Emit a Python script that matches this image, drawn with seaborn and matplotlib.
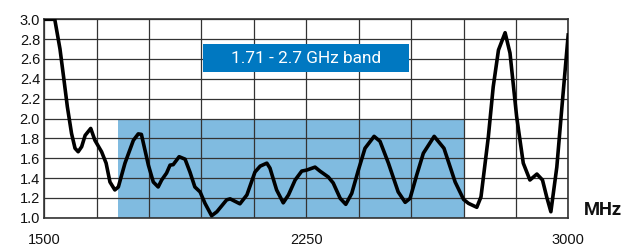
import pandas as pd
import matplotlib
matplotlib.use('Agg')
import matplotlib.pyplot as plt
import seaborn as sns
from matplotlib.patches import Rectangle

# Frequência (MHz) e VSWR
freq = [1500, 1530, 1545, 1556, 1566, 1578, 1588, 1597, 1607, 1617, 1633, 1645,
        1664, 1677, 1688, 1702, 1712, 1731, 1755, 1769, 1778, 1798, 1812, 1826,
        1836, 1850, 1860, 1869, 1886, 1903, 1917, 1931, 1946, 1960, 1979, 1994,
        2022, 2032, 2060, 2080, 2103, 2118, 2137, 2146, 2165, 2184, 2199, 2218,
        2237, 2251, 2275, 2289, 2313, 2327, 2347, 2363, 2380, 2399, 2418, 2444,
        2461, 2485, 2513, 2533, 2547, 2566, 2585, 2616, 2644, 2676, 2700, 2714,
        2738, 2750, 2771, 2785, 2800, 2819, 2833, 2852, 2871, 2890, 2910, 2926,
        2938, 2950, 2967, 2981, 3000]
vswr = [3.0, 3.0, 2.70, 2.40, 2.12, 1.85, 1.70, 1.665, 1.716, 1.83, 1.90, 1.78,
        1.665, 1.55, 1.36, 1.28, 1.31, 1.55, 1.78, 1.845, 1.84, 1.53, 1.36, 1.31,
        1.38, 1.45, 1.53, 1.535, 1.615, 1.59, 1.46, 1.31, 1.26, 1.145, 1.02, 1.06,
        1.18, 1.19, 1.14, 1.23, 1.46, 1.52, 1.55, 1.50, 1.28, 1.15, 1.23, 1.38,
        1.47, 1.48, 1.51, 1.47, 1.41, 1.35, 1.195, 1.135, 1.245, 1.48, 1.70, 1.82,
        1.77, 1.55, 1.26, 1.155, 1.195, 1.43, 1.65, 1.82, 1.70, 1.36, 1.185, 1.145,
        1.105, 1.21, 1.815, 2.32, 2.69, 2.865, 2.66, 2.02, 1.55, 1.38, 1.44, 1.38,
        1.21, 1.06, 1.51, 2.09, 2.86]

band = [1710, 2700]
band_label = '1.71 - 2.7 GHz band'
x_ticks = [1500, 2250, 3000]
y_ticks = [1.0, 1.2, 1.4, 1.6, 1.8, 2.0, 2.2, 2.4, 2.6, 2.8, 3.0]

df = pd.DataFrame({'MHz': freq, 'VSWR': vswr})

sns.set_style('white')
plt.rcParams['font.family'] = ['Liberation Sans', 'DejaVu Sans']

fig = plt.figure(figsize=(6.28, 2.46), dpi=100)
ax = fig.add_axes([0.0705, 0.115, 0.8345, 0.8065])

# Faixa azul clara
ax.add_patch(Rectangle((band[0], 1.0), band[1] - band[0], 1.0,
                       facecolor='#80bbe0', edgecolor='none', zorder=1))

sns.lineplot(data=df, x='MHz', y='VSWR', color='black', linewidth=2.6,
             ax=ax, zorder=3, solid_joinstyle='round', solid_capstyle='butt')

ax.set_xlim(1500, 3000)
ax.set_ylim(1.0, 3.0)
ax.set_xticks(x_ticks)
ax.set_xticks(range(1500, 3001, 150), minor=True)
ax.set_yticks(y_ticks)
ax.set_yticklabels([f'{v:.1f}' for v in y_ticks])
ax.grid(True, which='both', color='#333333', linewidth=0.9)
ax.set_axisbelow(False)
ax.tick_params(which='both', length=0, labelsize=10.5, colors='#111111')
ax.tick_params(axis='x', pad=11)
ax.tick_params(axis='y', pad=3)
for s in ax.spines.values():
    s.set_color('#333333')
    s.set_linewidth(1.2)
ax.set_xlabel('')
ax.set_ylabel('')

# Caixa com o rótulo da faixa
ax.add_patch(Rectangle((1954, 2.47), 591, 0.278, facecolor='#0078c1',
                       edgecolor='none', zorder=4))
ax.text(2249, 2.605, band_label, color='white', fontsize=12.4, ha='center',
        va='center', family='Roboto', zorder=5)

ax.text(1.03, 0.0136, 'MHz', transform=ax.transAxes, ha='left', va='baseline',
        fontsize=13.2, family='Roboto', fontweight='bold', color='#111111')

plt.savefig('out.png', dpi=100)
